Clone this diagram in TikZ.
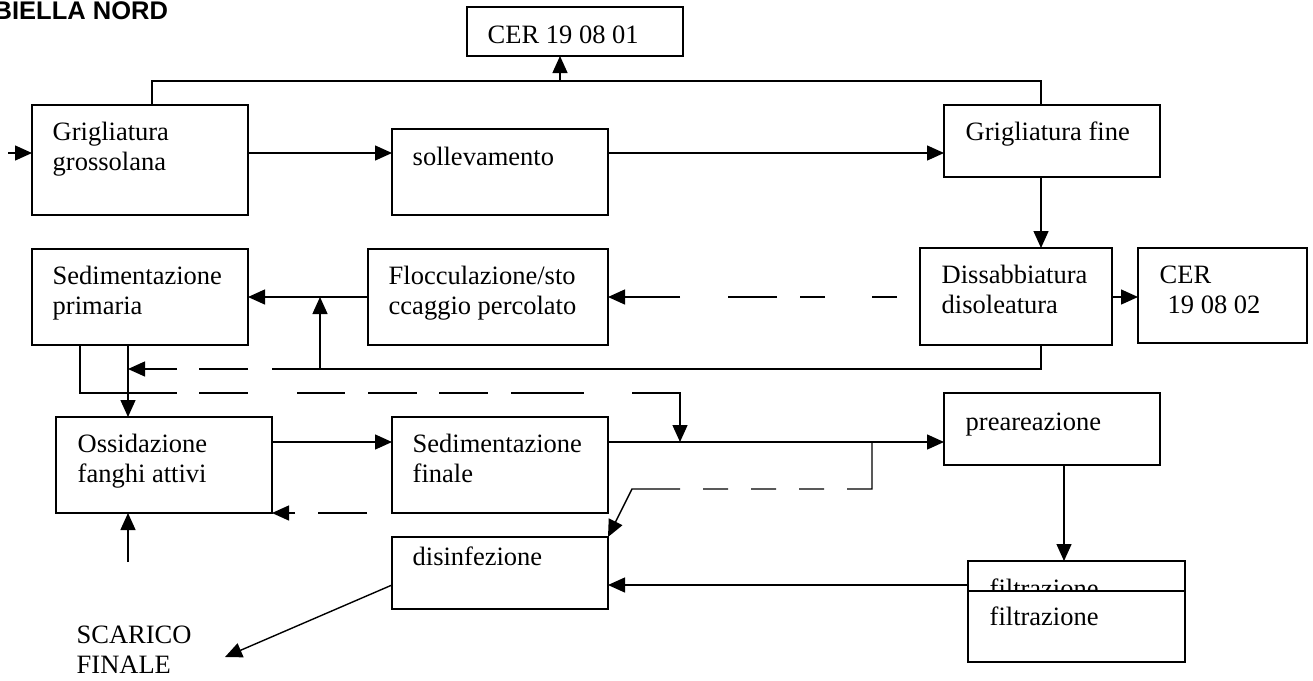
\documentclass[tikz,border=0pt]{standalone}
\usepackage{fontspec}
\setmainfont{Liberation Serif}
\newfontfamily\arialfont{Liberation Sans}
\usetikzlibrary{arrows.meta,calc}
\newcommand\fs{\rule{0pt}{19pt}}
\begin{document}
\begin{tikzpicture}[x=1pt,y=-1pt,
  line width=1.4pt,
  box/.style={draw, anchor=north west, inner sep=0pt, outer sep=0pt},
  txt/.style={anchor=north west, inner sep=0pt, align=left, font=\fontsize{26.5}{30}\selectfont},
  arr/.style={-{Triangle[length=17pt,width=15pt]}},
]
\useasboundingbox (0,0) rectangle (1313,680);
\clip (0,0) rectangle (1313,680);

\node[anchor=base west, inner sep=0pt, font=\arialfont\bfseries\fontsize{25.5}{30}\selectfont] (title) at (-7,19) {BIELLA NORD};

% boxes
\node[box, minimum width=216pt, minimum height=49pt] (cer1) at (467,7) {};
\node[box, minimum width=216pt, minimum height=110pt] (g1) at (32,105) {};
\node[box, minimum width=216pt, minimum height=86pt] (soll) at (392,129) {};
\node[box, minimum width=216pt, minimum height=72pt] (gf) at (944,105) {};
\node[box, minimum width=216pt, minimum height=96pt] (sp) at (32,249) {};
\node[box, minimum width=240pt, minimum height=96pt] (floc) at (368,249) {};
\node[box, minimum width=192pt, minimum height=97pt] (dis) at (920,248) {};
\node[box, minimum width=169pt, minimum height=95pt] (cer2) at (1138,248) {};
\node[box, minimum width=216pt, minimum height=96pt] (ox) at (56,417) {};
\node[box, minimum width=216pt, minimum height=96pt] (sf) at (392,417) {};
\node[box, minimum width=216pt, minimum height=72pt] (pre) at (944,393) {};
\node[box, minimum width=216pt, minimum height=72pt] (dis2) at (392,537) {};
\node[box, minimum width=217pt, minimum height=72pt] (fa) at (968,561) {};
\node[txt] (fat) at (989,578) {\fs filtrazione};
\node[box, fill=white, minimum width=217pt, minimum height=71pt] (fb) at (968,591) {};

% texts
\node[txt] (cer1t) at (487,24) {\fs CER 19 08 01};
\node[txt] (g1t) at (52,121) {\fs Grigliatura\\grossolana};
\node[txt] (sollt) at (412,146) {\fs sollevamento};
\node[txt] (gft) at (965,121) {\fs Grigliatura fine};
\node[txt] (dist) at (941,264) {\fs Dissabbiatura\\disoleatura};
\node[txt] (cer2t) at (1159,264) {\fs CER\\\hspace*{8pt}19 08 02};
\node[txt] (spt) at (52,265) {\fs Sedimentazione\\primaria};
\node[txt] (floct) at (388,265) {\fs Flocculazione/sto\\ccaggio percolato};
\node[txt] (oxt) at (77,433) {\fs Ossidazione\\fanghi attivi};
\node[txt] (sft) at (412,433) {\fs Sedimentazione\\finale};
\node[txt] (pret) at (965,411) {\fs preareazione};
\node[txt] (dis2t) at (412,546) {\fs disinfezione};
\node[txt] (fbt) at (989,606) {\fs filtrazione};
\node[txt] (sc) at (76,624) {\fs SCARICO\\FINALE};

% connectors
\coordinate (in) at (8,153);
\draw[arr] (in) -- (g1.west |- in);
\draw[arr] (g1.east |- in) -- (soll.west |- in);
\draw[arr] (soll.east |- in) -- (gf.west |- in);
\coordinate (c1) at (152,81);
\coordinate (c2) at (1041,81);
\coordinate (c3) at (560,81);
\draw (c1 |- g1.north) -- (c1) -- (c2) -- (c2 |- gf.north);
\draw[arr] (c3) -- (c3 |- cer1.south);
\draw[arr] (c2 |- gf.south) -- (c2 |- dis.north);
\coordinate (r1) at (0,297);
\draw[arr] (dis.east |- r1) -- (cer2.west |- r1);
\draw[arr, dash pattern=on 0pt off 23pt on 25pt off 47pt on 25pt off 23pt on 49pt off 48pt on 200pt] (dis.west |- r1) -- (floc.east |- r1);
\draw[arr] (floc.west |- r1) -- (sp.east |- r1);
\coordinate (d1) at (1041,369);
\coordinate (d2) at (320,369);
\coordinate (d3) at (128,369);
\draw[arr] (d1 |- dis.south) -- (d1) -- (d2) -- (d2 |- r1);
\draw[arr, dash pattern=on 48pt off 24pt on 49pt off 22pt on 100pt] (d2) -- (d3);
\draw[arr] (d3 |- sp.south) -- (d3 |- ox.north);
\coordinate (e1) at (80,393);
\coordinate (e2) at (680,393);
\coordinate (e3) at (680,442);
\draw[arr, dash pattern=on 145pt off 22pt on 49pt off 49pt on 48pt off 23pt on 49pt off 22pt on 49pt off 23pt on 73pt off 48pt on 200pt] (e1 |- sp.south) -- (e1) -- (e2) -- (e3);
\coordinate (m0) at (0,442);
\draw[arr] (ox.east |- m0) -- (sf.west |- m0);
\draw[arr] (sf.east |- m0) -- (pre.west |- m0);
\coordinate (f1) at (872,442);
\coordinate (f2) at (872,489);
\coordinate (f4) at (632,489);
\draw[arr, dash pattern=on 72pt off 23pt on 25pt off 23pt on 25pt off 23pt on 25pt off 23pt on 400pt] (f1) -- (f2) -- (f4) -- (dis2.north east);
\coordinate (g0) at (465,513);
\draw[arr, dash pattern=on 50pt off 48pt on 49pt off 23pt on 100pt] (g0) -- (ox.south east);
\coordinate (h0) at (128,562);
\draw[arr] (h0) -- (h0 |- ox.south);
\coordinate (k0) at (1064,0);
\draw[arr] (k0 |- pre.south) -- (k0 |- fa.north);
\coordinate (n0) at (0,585);
\draw[arr] (fa.west |- n0) -- (dis2.east |- n0);
\coordinate (s0) at (225,657);
\draw[arr] (dis2.west |- n0) -- (s0);
\end{tikzpicture}
\end{document}
